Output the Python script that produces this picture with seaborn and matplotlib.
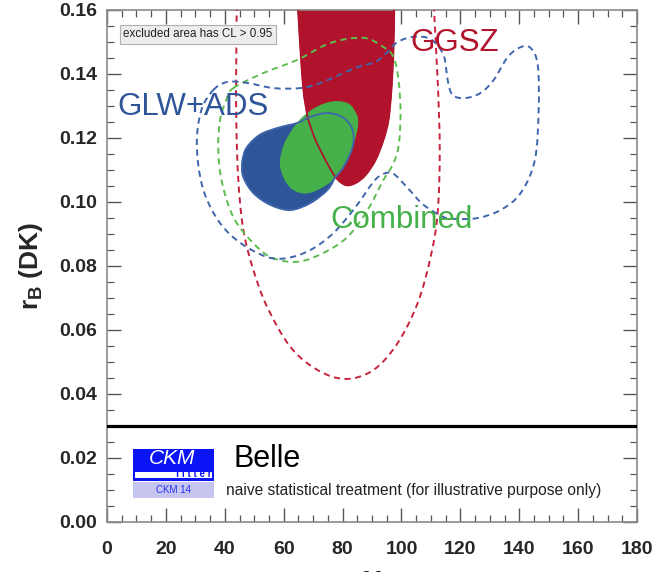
import numpy as np
import pandas as pd
import matplotlib
matplotlib.use("Agg")
import matplotlib.pyplot as plt
from matplotlib.path import Path
from matplotlib.patches import PathPatch, Rectangle
from matplotlib.ticker import MultipleLocator, FormatStrFormatter
import seaborn as sns

# ---- contour outlines in (gamma [deg], r_B) ----
# 68% CL regions (filled)
ggsz_fill_g = [65.0, 64.8, 65.7, 66.7, 67.7, 68.4, 70.8, 74.2, 77.6, 81.0, 84.4,
               87.8, 91.2, 93.9, 95.6, 96.6, 97.3, 97.6, 97.8]
ggsz_fill_r = [0.175, 0.163, 0.1475, 0.135, 0.1288, 0.1256, 0.1194, 0.1131, 0.1078,
               0.1053, 0.1059, 0.1084, 0.1131, 0.1194, 0.1256, 0.135, 0.1475, 0.163, 0.175]

glw_fill_g = [45.9, 47.0, 49.7, 53.1, 58.9, 64.6, 69.1, 74.9, 80.3, 83.4, 83.4,
              80.3, 77.6, 74.9, 69.1, 62.3, 55.5, 49.7, 46.3]
glw_fill_r = [0.1122, 0.1163, 0.1194, 0.1216, 0.1234, 0.1247, 0.1266, 0.1278, 0.1263,
              0.1225, 0.1172, 0.1109, 0.1078, 0.1038, 0.0997, 0.0975, 0.0991, 0.1028, 0.1078]

comb_fill_g = [58.9, 60.2, 63.0, 66.7, 71.5, 76.9, 82.0, 84.7, 85.1, 84.0, 81.7,
               77.6, 72.5, 67.4, 63.0, 60.2]
comb_fill_r = [0.1122, 0.1178, 0.1225, 0.1266, 0.1297, 0.1313, 0.1306, 0.1272, 0.1241,
               0.1194, 0.1131, 0.1078, 0.1044, 0.1028, 0.1041, 0.1075]

# 95% CL regions (dashed)
ggsz_dash_g = [44.2, 43.9, 43.9, 44.6, 46.3, 49.7, 54.4, 62.3, 71.5, 81.0, 90.5,
               98.7, 105.5, 109.9, 112.3, 113.0, 112.3, 110.9, 110.5]
ggsz_dash_r = [0.175, 0.1444, 0.1256, 0.1069, 0.0913, 0.0788, 0.0672, 0.0547, 0.0475,
               0.0447, 0.0475, 0.0559, 0.0684, 0.0828, 0.0966, 0.1163, 0.1381, 0.163, 0.175]

comb_dash_g = [42.9, 53.1, 64.6, 75.9, 87.1, 93.9, 97.3, 99.0, 99.7, 99.0, 97.0,
               93.9, 88.5, 81.7, 73.5, 64.6, 55.5, 48.7, 42.9, 39.1, 37.8, 38.4, 40.5]
comb_dash_r = [0.1356, 0.1403, 0.1444, 0.1497, 0.1513, 0.1484, 0.1453, 0.1381, 0.1278,
               0.1172, 0.1116, 0.1069, 0.0975, 0.0891, 0.0841, 0.0813, 0.0828, 0.0881,
               0.0953, 0.1059, 0.1163, 0.1256, 0.1319]

glw_dash_g = [36.1, 40.8, 47.6, 56.5, 65.7, 72.5, 84.4, 91.2, 95.3, 98.7, 104.1,
              109.9, 114.3, 115.7, 117.4, 121.8, 126.9, 131.3, 136.1, 140.5, 143.9,
              146.3, 146.6, 145.3, 140.5, 133.7, 125.9, 118.4, 114.3, 107.5, 102.1,
              97.3, 93.9, 90.5, 84.4, 76.9, 69.1, 61.2, 54.4, 45.3, 38.4, 33.3, 31.0,
              30.6, 32.3]
glw_dash_r = [0.1350, 0.1375, 0.1372, 0.1356, 0.1356, 0.1372, 0.1419, 0.1438, 0.1469,
              0.1500, 0.1516, 0.1509, 0.1459, 0.1381, 0.1334, 0.1325, 0.1341, 0.1381,
              0.1453, 0.1484, 0.1481, 0.1428, 0.1288, 0.1131, 0.1028, 0.0975, 0.0950,
              0.0947, 0.0953, 0.0991, 0.1044, 0.1088, 0.1088, 0.1063, 0.0984, 0.0903,
              0.0850, 0.0825, 0.0828, 0.0872, 0.0934, 0.1022, 0.1116, 0.1209, 0.1294]

separator_level = 0.03
x_ticks = list(range(0, 181, 20))
y_ticks = [0.00, 0.02, 0.04, 0.06, 0.08, 0.10, 0.12, 0.14, 0.16]

RED_FILL, RED_LINE = "#B0132B", "#C8233D"
BLUE_FILL, BLUE_LINE = "#2E5597", "#3F66AC"
GREEN_FILL, GREEN_LINE = "#46B04A", "#5DBE4F"


def bezier_path(xs, ys, closed=True):
    """Smooth outline through the given vertices (Catmull-Rom as cubic Beziers)."""
    P = np.column_stack([xs, ys]).astype(float)
    n = len(P)
    verts = [P[0]]
    codes = [Path.MOVETO]
    nseg = n if closed else n - 1
    for i in range(nseg):
        p1 = P[i]
        p2 = P[(i + 1) % n]
        p0 = P[(i - 1) % n] if (closed or i > 0) else P[i]
        p3 = P[(i + 2) % n] if (closed or i + 2 < n) else P[i + 1]
        verts += [p1 + (p2 - p0) / 6.0, p2 - (p3 - p1) / 6.0, p2]
        codes += [Path.CURVE4] * 3
    if closed:
        verts.append(P[0])
        codes.append(Path.CLOSEPOLY)
    return Path(np.array(verts), codes)


sns.set_theme(style="ticks")
plt.rcParams["font.family"] = ["Liberation Sans", "DejaVu Sans"]
plt.rcParams["mathtext.fontset"] = "custom"
plt.rcParams["mathtext.rm"] = "Liberation Sans"
plt.rcParams["mathtext.bf"] = "Liberation Sans:bold"

fig = plt.figure(figsize=(6.52, 5.72), dpi=100)
ax = fig.add_axes([107 / 652, 50 / 572, 530 / 652, 512 / 572])
ax.set_xlim(0, 180)
ax.set_ylim(0, 0.16)

# filled 68% regions
for gx, gy, col in [(ggsz_fill_g, ggsz_fill_r, RED_FILL),
                    (glw_fill_g, glw_fill_r, BLUE_FILL),
                    (comb_fill_g, comb_fill_r, GREEN_FILL)]:
    ax.add_patch(PathPatch(bezier_path(gx, gy), facecolor=col, edgecolor=col,
                           lw=0.8, zorder=2))
# thin outlines of the individual regions on top of the combined one
ax.add_patch(PathPatch(bezier_path(ggsz_fill_g, ggsz_fill_r), fill=False,
                       edgecolor=RED_FILL, lw=1.3, zorder=3))
ax.add_patch(PathPatch(bezier_path(glw_fill_g, glw_fill_r), fill=False,
                       edgecolor=BLUE_LINE, lw=1.3, zorder=3))

# dashed 95% regions
dash = (0, (3.2, 2.3))
ax.add_patch(PathPatch(bezier_path(ggsz_dash_g, ggsz_dash_r, closed=False), fill=False,
                       edgecolor=RED_LINE, lw=1.4, linestyle=dash, zorder=4))
ax.add_patch(PathPatch(bezier_path(comb_dash_g, comb_dash_r), fill=False,
                       edgecolor=GREEN_LINE, lw=1.4, linestyle=dash, zorder=4))
ax.add_patch(PathPatch(bezier_path(glw_dash_g, glw_dash_r), fill=False,
                       edgecolor=BLUE_LINE, lw=1.4, linestyle=dash, zorder=4))

# separator between plot area and caption area
sep = pd.DataFrame({"gamma": [0, 180], "rB": [separator_level, separator_level]})
sns.lineplot(data=sep, x="gamma", y="rB", color="black", lw=2.3, ax=ax, zorder=5)

# region names
ax.text(118.2, 0.1497, "GGSZ", color=RED_FILL, fontsize=22.5, ha="center", va="center", zorder=6)
ax.text(29.2, 0.1297, "GLW+ADS", color=BLUE_FILL, fontsize=22.5, ha="center", va="center", zorder=6)
ax.text(99.9, 0.0944, "Combined", color=GREEN_FILL, fontsize=22.5, ha="center", va="center", zorder=6)

ax.text(5.5, 0.1525, "excluded area has CL > 0.95", fontsize=8.4, color="#222222",
        ha="left", va="center", zorder=7,
        bbox=dict(boxstyle="square,pad=0.3", facecolor="#EDEDED", edgecolor="#B0B0B0", lw=0.8))

# caption block
ax.add_patch(Rectangle((8.8, 0.0128), 27.5, 0.0100, facecolor="#0A14F5", edgecolor="none", zorder=6))
ax.add_patch(Rectangle((9.6, 0.0137), 26.0, 0.0019, facecolor="white", edgecolor="none", zorder=7))
ax.add_patch(Rectangle((8.8, 0.0075), 27.5, 0.0050, facecolor="#C5C5F0", edgecolor="none", zorder=6))
ax.text(22.0, 0.0197, "CKM", color="white", fontsize=15, style="italic",
        ha="center", va="center", zorder=8)
ax.text(35.4, 0.0149, "f i t t e r", color="#0A14F5", fontsize=7, fontweight="bold",
        ha="right", va="center", zorder=8)
ax.text(22.5, 0.0100, "CKM 14", color="#1E2CF0", fontsize=7, ha="center", va="center", zorder=8)
ax.text(42.8, 0.0196, "Belle", color="black", fontsize=22, ha="left", va="center", zorder=6)
ax.text(40.4, 0.0098, "naive statistical treatment (for illustrative purpose only)",
        color="#222222", fontsize=11.2, ha="left", va="center", zorder=6)

# axes styling
ax.set_xticks(x_ticks)
ax.set_yticks(y_ticks)
ax.xaxis.set_minor_locator(MultipleLocator(5))
ax.yaxis.set_minor_locator(MultipleLocator(0.005))
ax.yaxis.set_major_formatter(FormatStrFormatter("%.2f"))
ax.tick_params(which="both", direction="in", top=True, right=True, color="#555555")
ax.tick_params(which="major", length=10, width=1.0, labelsize=14, pad=7)
ax.tick_params(which="minor", length=5, width=0.9)
ax.tick_params(axis="x", which="major", pad=14)
for lab in ax.get_xticklabels() + ax.get_yticklabels():
    lab.set_fontweight("bold")
for s in ax.spines.values():
    s.set_color("#8A8A8A")
    s.set_linewidth(1.2)

ax.set_ylabel(r"$\mathbf{r_B}$ (DK)", fontsize=19, fontweight="bold", labelpad=10)
ax.set_xlabel(r"$\mathbf{\gamma}$", fontsize=22, fontweight="bold", labelpad=6)

fig.savefig("out.png", dpi=100)
